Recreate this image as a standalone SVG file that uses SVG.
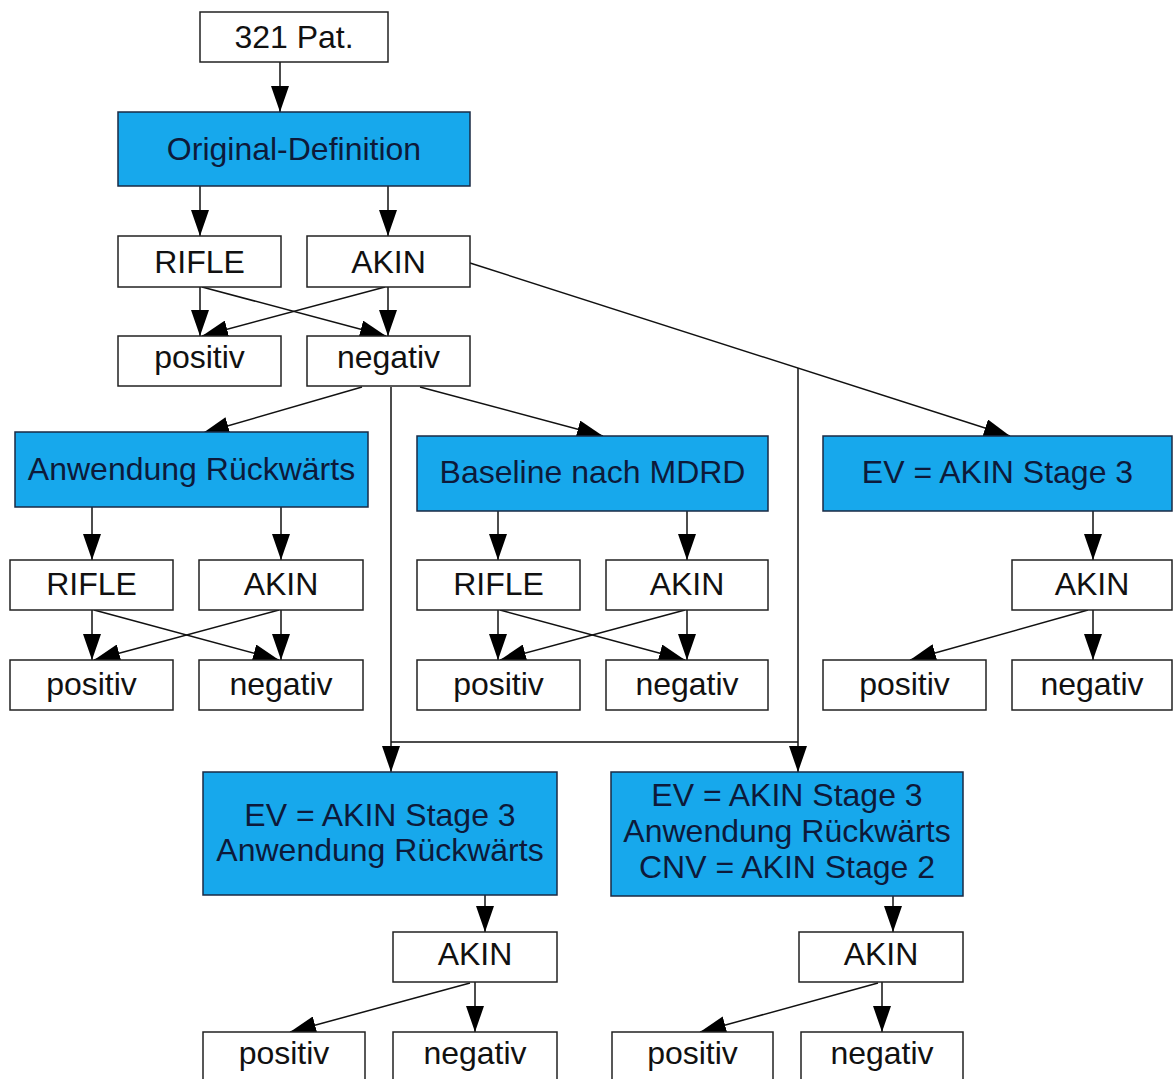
<svg xmlns="http://www.w3.org/2000/svg" width="1173" height="1079" viewBox="0 0 1173 1079">
  <defs>
    <marker id="arrow" markerUnits="userSpaceOnUse" markerWidth="26" markerHeight="18" viewBox="0 0 26 18" refX="26" refY="9" orient="auto">
      <path d="M0,0 L26,9 L0,18 z" fill="#000"/>
    </marker>
    <style>
      .box { fill: #ffffff; stroke: #222; stroke-width: 1.5; }
      .hl { fill: #17a8ec; stroke: #1a2a44; stroke-width: 1.5; }
      text { font-family: "Liberation Sans", Arial, sans-serif; font-size: 32px; text-anchor: middle; }
      .t { fill: #111; }
      .th { fill: #0d1a3a; }
      .c { fill: none; stroke: #111; stroke-width: 1.5; }
      .a { marker-end: url(#arrow); }
    </style>
  </defs>
  <rect width="1173" height="1079" fill="#ffffff"/>

  <!-- connectors -->
  <g id="connectors">
    <line class="c a" x1="280" y1="62" x2="280" y2="112"/>
    <line class="c a" x1="200" y1="186" x2="200" y2="236"/>
    <line class="c a" x1="388" y1="186" x2="388" y2="236"/>
    <line class="c a" x1="200" y1="287" x2="200" y2="336"/>
    <line class="c a" x1="388" y1="287" x2="388" y2="336"/>
    <line class="c a" x1="202" y1="287" x2="386" y2="336"/>
    <line class="c a" x1="385" y1="287" x2="202" y2="336"/>
    <line class="c a" x1="470" y1="263" x2="1010" y2="436"/>
    <line class="c a" x1="798" y1="368" x2="798" y2="772"/>
    <line class="c a" x1="362" y1="387" x2="203" y2="433"/>
    <line class="c a" x1="420" y1="387" x2="603" y2="436"/>
    <line class="c a" x1="391" y1="387" x2="391" y2="772"/>
    <line class="c" x1="391" y1="742" x2="798" y2="742"/>

    <line class="c a" x1="92" y1="507" x2="92" y2="560"/>
    <line class="c a" x1="281" y1="507" x2="281" y2="560"/>
    <line class="c a" x1="92" y1="610" x2="92" y2="660"/>
    <line class="c a" x1="281" y1="610" x2="281" y2="660"/>
    <line class="c a" x1="94" y1="610" x2="279" y2="660"/>
    <line class="c a" x1="279" y1="610" x2="94" y2="660"/>

    <line class="c a" x1="498" y1="511" x2="498" y2="560"/>
    <line class="c a" x1="687" y1="511" x2="687" y2="560"/>
    <line class="c a" x1="498" y1="610" x2="498" y2="660"/>
    <line class="c a" x1="687" y1="610" x2="687" y2="660"/>
    <line class="c a" x1="500" y1="610" x2="685" y2="660"/>
    <line class="c a" x1="685" y1="610" x2="500" y2="660"/>

    <line class="c a" x1="1093" y1="511" x2="1093" y2="560"/>
    <line class="c a" x1="1093" y1="610" x2="1093" y2="660"/>
    <line class="c a" x1="1088" y1="610" x2="910" y2="660"/>

    <line class="c a" x1="485" y1="895" x2="485" y2="932"/>
    <line class="c a" x1="475" y1="982" x2="475" y2="1032"/>
    <line class="c a" x1="470" y1="983" x2="290" y2="1032"/>

    <line class="c a" x1="893" y1="896" x2="893" y2="932"/>
    <line class="c a" x1="882" y1="982" x2="882" y2="1032"/>
    <line class="c a" x1="878" y1="983" x2="700" y2="1032"/>
  </g>

  <!-- top chain -->
  <g id="n-pat"><rect class="box" x="200" y="12" width="188" height="50"/><text class="t" x="294" y="48">321 Pat.</text></g>
  <g id="n-orig"><rect class="hl" x="118" y="112" width="352" height="74"/><text class="th" x="294" y="160">Original-Definition</text></g>
  <g id="n-rifle0"><rect class="box" x="118" y="236" width="163" height="51"/><text class="t" x="199.5" y="273">RIFLE</text></g>
  <g id="n-akin0"><rect class="box" x="307" y="236" width="163" height="51"/><text class="t" x="388.5" y="273">AKIN</text></g>
  <g id="n-pos0"><rect class="box" x="118" y="336" width="163" height="50"/><text class="t" x="199.5" y="368">positiv</text></g>
  <g id="n-neg0"><rect class="box" x="307" y="336" width="163" height="50"/><text class="t" x="388.5" y="368">negativ</text></g>

  <!-- Anwendung Rückwärts branch -->
  <g id="n-anw"><rect class="hl" x="15" y="432" width="353" height="75"/><text class="th" x="191.5" y="480">Anwendung Rückwärts</text></g>
  <g id="n-rifle1"><rect class="box" x="10" y="560" width="163" height="50"/><text class="t" x="91.5" y="595">RIFLE</text></g>
  <g id="n-akin1"><rect class="box" x="199" y="560" width="164" height="50"/><text class="t" x="281" y="595">AKIN</text></g>
  <g id="n-pos1"><rect class="box" x="10" y="660" width="163" height="50"/><text class="t" x="91.5" y="695">positiv</text></g>
  <g id="n-neg1"><rect class="box" x="199" y="660" width="164" height="50"/><text class="t" x="281" y="695">negativ</text></g>

  <!-- Baseline nach MDRD branch -->
  <g id="n-mdrd"><rect class="hl" x="417" y="436" width="351" height="75"/><text class="th" x="592.5" y="483">Baseline nach MDRD</text></g>
  <g id="n-rifle2"><rect class="box" x="417" y="560" width="163" height="50"/><text class="t" x="498.5" y="595">RIFLE</text></g>
  <g id="n-akin2"><rect class="box" x="606" y="560" width="162" height="50"/><text class="t" x="687" y="595">AKIN</text></g>
  <g id="n-pos2"><rect class="box" x="417" y="660" width="163" height="50"/><text class="t" x="498.5" y="695">positiv</text></g>
  <g id="n-neg2"><rect class="box" x="606" y="660" width="162" height="50"/><text class="t" x="687" y="695">negativ</text></g>

  <!-- EV = AKIN Stage 3 branch -->
  <g id="n-ev"><rect class="hl" x="823" y="436" width="349" height="75"/><text class="th" x="997.5" y="483">EV = AKIN Stage 3</text></g>
  <g id="n-akin3"><rect class="box" x="1012" y="560" width="160" height="50"/><text class="t" x="1092" y="595">AKIN</text></g>
  <g id="n-pos3"><rect class="box" x="823" y="660" width="163" height="50"/><text class="t" x="904.5" y="695">positiv</text></g>
  <g id="n-neg3"><rect class="box" x="1012" y="660" width="160" height="50"/><text class="t" x="1092" y="695">negativ</text></g>

  <!-- EV + Anwendung Rückwärts branch -->
  <g id="n-ev-anw"><rect class="hl" x="203" y="772" width="354" height="123"/><text class="th" x="380" y="826">EV = AKIN Stage 3</text><text class="th" x="380" y="861">Anwendung Rückwärts</text></g>
  <g id="n-akin4"><rect class="box" x="393" y="932" width="164" height="50"/><text class="t" x="475" y="965">AKIN</text></g>
  <g id="n-pos4"><rect class="box" x="203" y="1032" width="162" height="50"/><text class="t" x="284" y="1064">positiv</text></g>
  <g id="n-neg4"><rect class="box" x="393" y="1032" width="164" height="50"/><text class="t" x="475" y="1064">negativ</text></g>

  <!-- EV + Anwendung Rückwärts + CNV branch -->
  <g id="n-ev-cnv"><rect class="hl" x="611" y="772" width="352" height="124"/><text class="th" x="787" y="806">EV = AKIN Stage 3</text><text class="th" x="787" y="842">Anwendung Rückwärts</text><text class="th" x="787" y="878">CNV = AKIN Stage 2</text></g>
  <g id="n-akin5"><rect class="box" x="799" y="932" width="164" height="50"/><text class="t" x="881" y="965">AKIN</text></g>
  <g id="n-pos5"><rect class="box" x="612" y="1032" width="161" height="50"/><text class="t" x="692.5" y="1064">positiv</text></g>
  <g id="n-neg5"><rect class="box" x="801" y="1032" width="162" height="50"/><text class="t" x="882" y="1064">negativ</text></g>
</svg>
